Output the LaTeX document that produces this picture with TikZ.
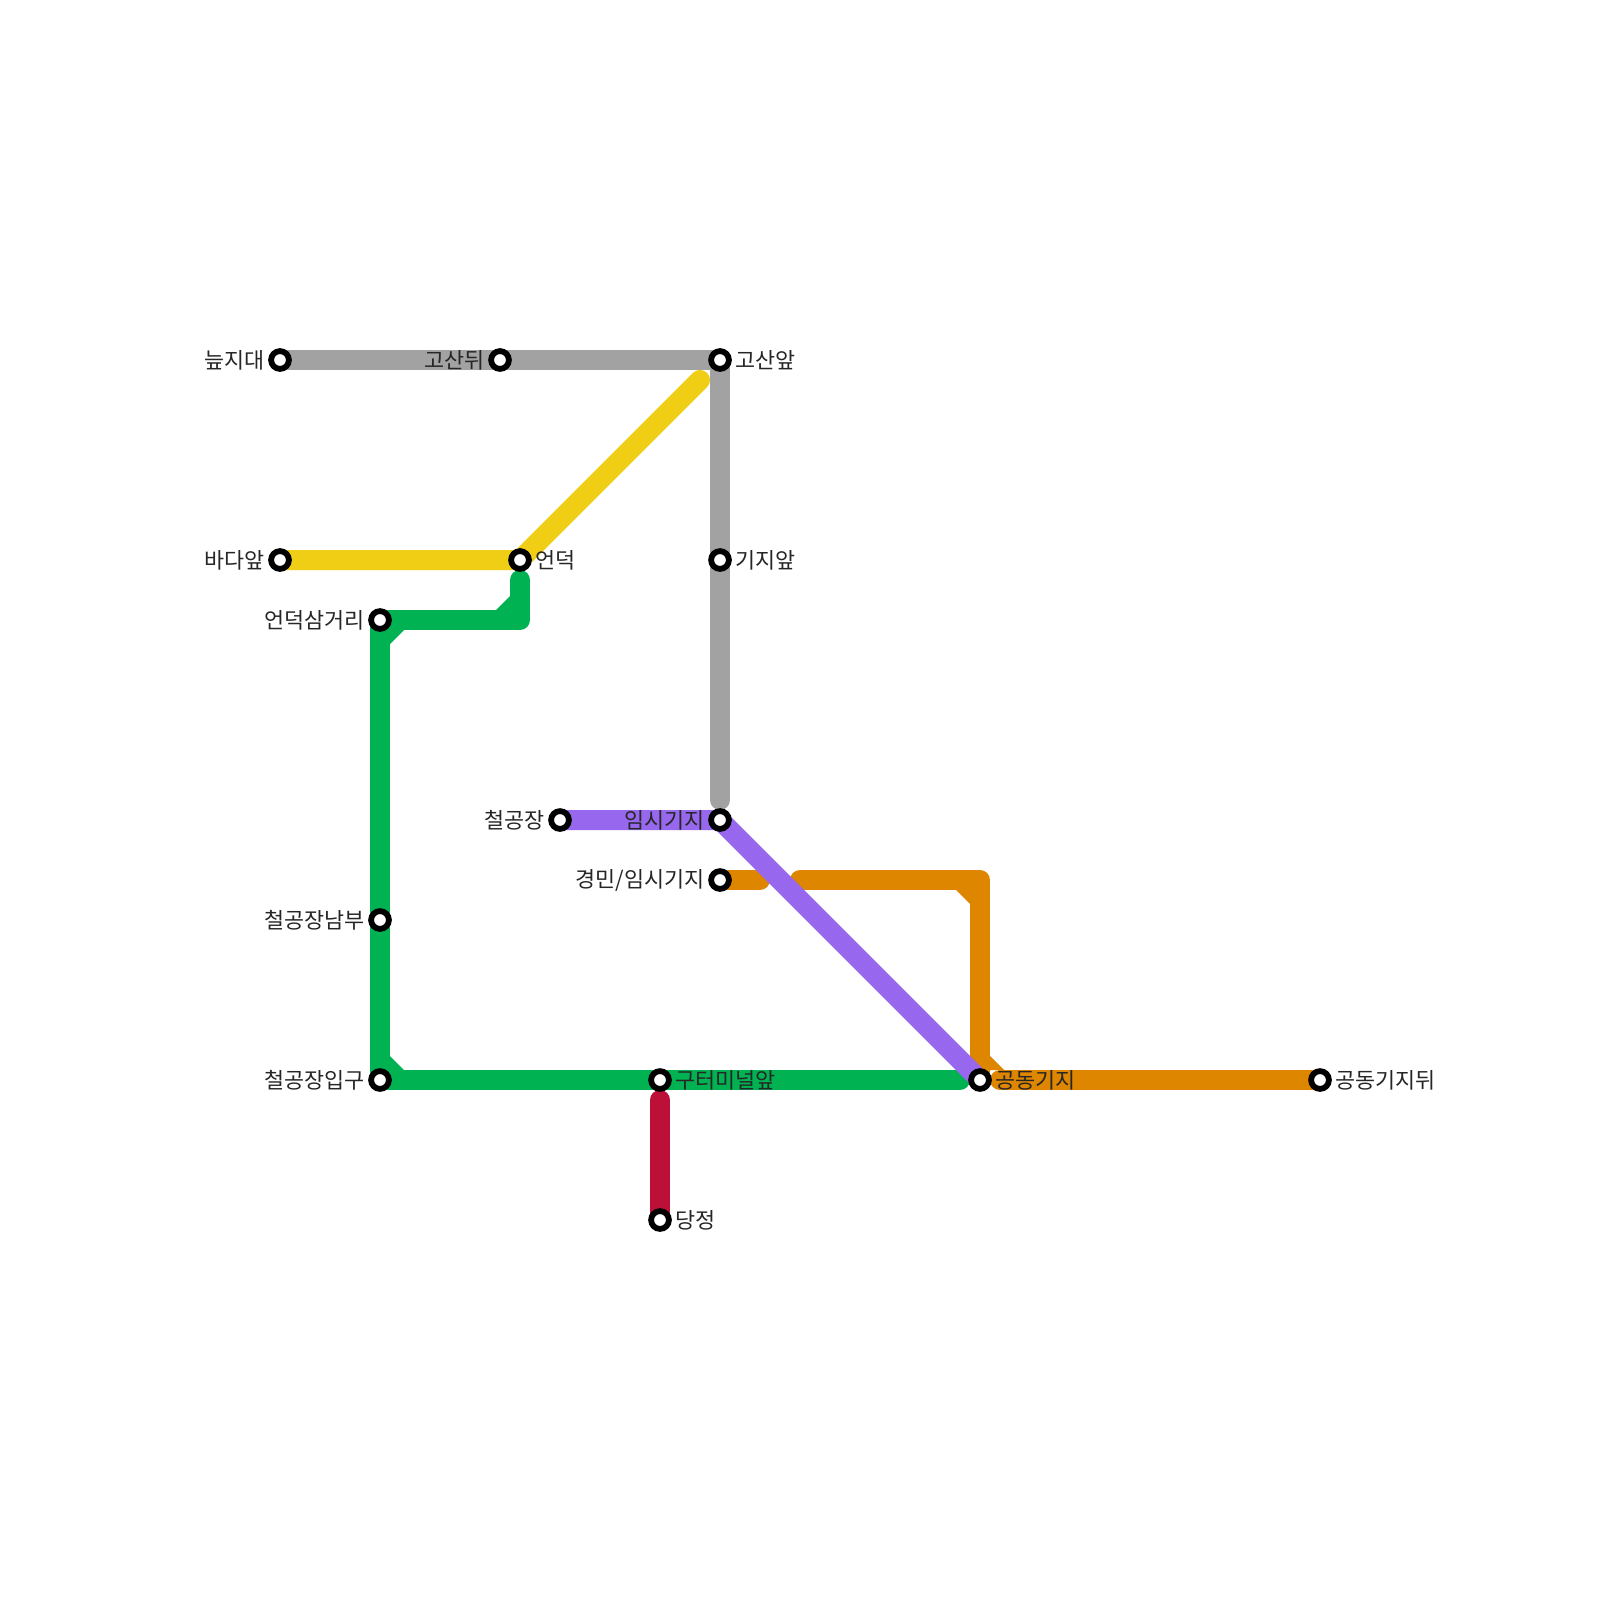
\documentclass[tikz,border=0pt]{standalone}
\usepackage{fontspec}
\setmainfont{Noto Sans CJK KR}
\usetikzlibrary{backgrounds}
\definecolor{lgray}{HTML}{A2A2A2}
\definecolor{lyellow}{HTML}{F0CE15}
\definecolor{lgreen}{HTML}{00B251}
\definecolor{lpurple}{HTML}{9768EE}
\definecolor{lorange}{HTML}{DF8600}
\definecolor{lred}{HTML}{BD1038}
\tikzset{
  stn/.style={circle,draw=black,fill=white,line width=5.8pt,minimum size=17.8pt,inner sep=0pt,outer sep=0pt},
  txt/.style={font=\fontsize{21.8}{22}\selectfont,text=black!85,inner sep=0pt,outer sep=0pt},
  lblR/.style={txt,anchor=west,xshift=15.5pt},
  lblL/.style={txt,anchor=east,xshift=-15.5pt},
  route/.style={line width=20pt,line cap=round,line join=round},
  chamfer/.style={draw=none}
}
\begin{document}
\begin{tikzpicture}[x=1pt,y=-1pt]
\useasboundingbox (0,0) rectangle (1600,1600);
% stations
\node[stn] (a1) at (280,360) {};
\node[stn] (a2) at (500,360) {};
\node[stn] (a3) at (720,360) {};
\node[stn] (a4) at (720,560) {};
\node[stn] (b1) at (280,560) {};
\node[stn] (b2) at (520,560) {};
\node[stn] (c1) at (380,620) {};
\node[stn] (c2) at (380,920) {};
\node[stn] (c3) at (380,1080) {};
\node[stn] (c4) at (660,1080) {};
\node[stn] (d1) at (560,820) {};
\node[stn] (d2) at (720,820) {};
\node[stn] (e1) at (720,880) {};
\node[stn] (e2) at (980,1080) {};
\node[stn] (e3) at (1320,1080) {};
\node[stn] (f1) at (660,1220) {};
% free ends and bends
\coordinate (ybend) at (700,380);
\coordinate (gstub) at (520,580);
\coordinate (gcorner) at (520,620);
\coordinate (gend) at (960,1080);
\coordinate (ostubend) at (760,880);
\coordinate (ostart) at (800,880);
\coordinate (ocorner) at (980,880);
\coordinate (orestart) at (1000,1080);
\coordinate (rtop) at (660,1100);
\coordinate (gyend) at (720,800);
% labels
\node[lblL] (ta1) at (a1.center) {늪지대};
\node[lblL] (ta2) at (a2.center) {고산뒤};
\node[lblR] (ta3) at (a3.center) {고산앞};
\node[lblR] (ta4) at (a4.center) {기지앞};
\node[lblL] (tb1) at (b1.center) {바다앞};
\node[lblR] (tb2) at (b2.center) {언덕};
\node[lblL] (tc1) at (c1.center) {언덕삼거리};
\node[lblL] (tc2) at (c2.center) {철공장남부};
\node[lblL] (tc3) at (c3.center) {철공장입구};
\node[lblR] (tc4) at (c4.center) {구터미널앞};
\node[lblL] (td1) at (d1.center) {철공장};
\node[lblL] (td2) at (d2.center) {임시기지};
\node[lblL] (te1) at (e1.center) {경민/임시기지};
\node[lblR] (te2) at (e2.center) {공동기지};
\node[lblR] (te3) at (e3.center) {공동기지뒤};
\node[lblR] (tf1) at (f1.center) {당정};
\begin{scope}[on background layer]
\fill[white] (0,0) rectangle (1600,1600);
% gray
\draw[route,lgray] (a1.center) -- (a2.center) -- (a3.center) -- (a4.center) -- (gyend);
% green
\draw[route,lgreen] (gstub) -- (gcorner) -- (c1.center) -- (c2.center) -- (c3.center) -- (c4.center) -- (gend);
\fill[lgreen,chamfer] (496,610) -- (510,596) -- (510,610) -- cycle;
\fill[lgreen,chamfer] (390,644) -- (404,630) -- (390,630) -- cycle;
\fill[lgreen,chamfer] (390,1056) -- (404,1070) -- (390,1070) -- cycle;
% orange
\draw[route,lorange] (e1.center) -- (ostubend);
\draw[route,lorange] (ostart) -- (ocorner) -- (e2.center);
\draw[route,lorange] (orestart) -- (e3.center);
\fill[lorange,chamfer] (956,890) -- (970,904) -- (970,890) -- cycle;
\fill[lorange,chamfer] (990,1056) -- (1004,1070) -- (990,1070) -- cycle;
% red
\draw[route,lred] (rtop) -- (f1.center);
% yellow
\draw[route,lyellow] (b1.center) -- (b2.center) -- (ybend);
% purple
\draw[route,lpurple] (d1.center) -- (d2.center) -- (e2.center);
\end{scope}
\end{tikzpicture}
\end{document}
